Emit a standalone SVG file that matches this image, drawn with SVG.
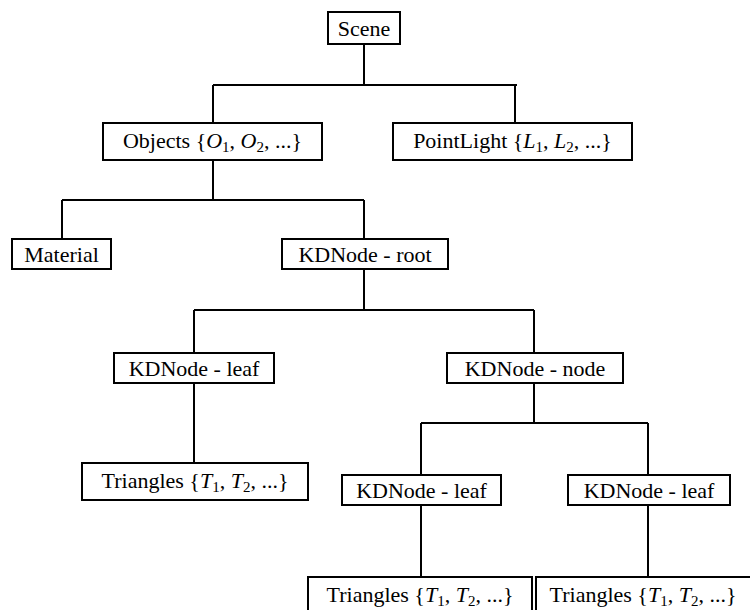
<svg xmlns="http://www.w3.org/2000/svg" width="750" height="610" viewBox="0 0 750 610">
<style>
.box{fill:#fff;stroke:#000;stroke-width:2}
.ln{fill:none;stroke:#000;stroke-width:2}
text{font-family:"Liberation Serif","DejaVu Serif",serif;font-size:22px;fill:#000;text-anchor:middle}
.i{font-style:italic}
.s{font-size:15px}
</style>
<rect width="750" height="610" fill="#fff"/>
<g id="connectors">
<path class="ln" d="M364 44V85M213 85H517M213 85V123M515 85V123"/>
<path class="ln" d="M213 160V200M62 200H364M62 200V239M364 200V239"/>
<path class="ln" d="M364 269V310M194 310H534M194 310V353M534 310V353"/>
<path class="ln" d="M194 383V463"/>
<path class="ln" d="M534 383V423M421 423H648M421 423V475M648 423V475"/>
<path class="ln" d="M421 505V577M648 505V577"/>
</g>
<g id="scene"><rect class="box" x="328" y="12" width="72" height="32"/><text x="364" y="36">Scene</text></g>
<g id="objects"><rect class="box" x="103" y="123" width="219" height="37"/><text x="212.5" y="148">Objects {<tspan class="i">O</tspan><tspan class="s" dy="4">1</tspan><tspan dy="-4">, </tspan><tspan class="i">O</tspan><tspan class="s" dy="4">2</tspan><tspan dy="-4">, ...}</tspan></text></g>
<g id="pointlight"><rect class="box" x="393" y="123" width="239" height="37"/><text x="512.5" y="148">PointLight {<tspan class="i">L</tspan><tspan class="s" dy="4">1</tspan><tspan dy="-4">, </tspan><tspan class="i">L</tspan><tspan class="s" dy="4">2</tspan><tspan dy="-4">, ...}</tspan></text></g>
<g id="material"><rect class="box" x="12" y="239" width="99" height="30"/><text x="61.5" y="262">Material</text></g>
<g id="kdroot"><rect class="box" x="282" y="239" width="166" height="30"/><text x="365" y="262">KDNode - root</text></g>
<g id="kdleaf1"><rect class="box" x="114" y="353" width="160" height="30"/><text x="194" y="376">KDNode - leaf</text></g>
<g id="kdnode"><rect class="box" x="447" y="353" width="176" height="30"/><text x="535" y="376">KDNode - node</text></g>
<g id="tri1"><rect class="box" x="82" y="463" width="226" height="37"/><text x="195" y="488">Triangles {<tspan class="i">T</tspan><tspan class="s" dy="4">1</tspan><tspan dy="-4">, </tspan><tspan class="i">T</tspan><tspan class="s" dy="4">2</tspan><tspan dy="-4">, ...}</tspan></text></g>
<g id="kdleaf2"><rect class="box" x="342" y="475" width="159" height="30"/><text x="421.5" y="498">KDNode - leaf</text></g>
<g id="kdleaf3"><rect class="box" x="568" y="475" width="162" height="30"/><text x="649" y="498">KDNode - leaf</text></g>
<g id="tri2"><rect class="box" x="308" y="577" width="224" height="40"/><text x="420" y="602">Triangles {<tspan class="i">T</tspan><tspan class="s" dy="4">1</tspan><tspan dy="-4">, </tspan><tspan class="i">T</tspan><tspan class="s" dy="4">2</tspan><tspan dy="-4">, ...}</tspan></text></g>
<g id="tri3"><rect class="box" x="536" y="577" width="216" height="40"/><text x="643" y="602">Triangles {<tspan class="i">T</tspan><tspan class="s" dy="4">1</tspan><tspan dy="-4">, </tspan><tspan class="i">T</tspan><tspan class="s" dy="4">2</tspan><tspan dy="-4">, ...}</tspan></text></g>
</svg>
